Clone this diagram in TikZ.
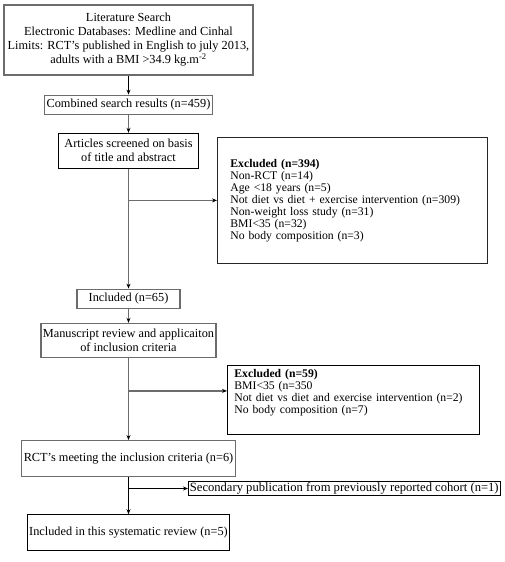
\documentclass[tikz,border=0pt]{standalone}
\usepackage{fontspec}
\setmainfont{Liberation Serif}
\usetikzlibrary{arrows.meta, positioning, calc}

\begin{document}
\begin{tikzpicture}[
    x=1pt, y=1pt,
    box/.style={rectangle, draw, line width=0.8pt, align=center, inner sep=2pt, font=\fontsize{12.3}{14}\selectfont},
    greybox/.style={box, draw=gray!85!black, line width=1.2pt},
    exclbox/.style={rectangle, draw, line width=0.8pt, align=left, inner ysep=4pt, font=\fontsize{11.7}{12}\selectfont},
    arrow/.style={-{Stealth[length=5pt, width=4pt]}, line width=0.8pt},
    greyarrow/.style={-{Stealth[length=5pt, width=4pt, black]}, draw=gray!85!black, line width=1.2pt}
]
\useasboundingbox (0,0) rectangle (504,-562);

% --- Coluna principal ---
\node[greybox, minimum width=249pt, minimum height=70pt] (search) at (128.5,-40)
    {Literature Search\\Electronic Databases: Medline and Cinhal\\Limits: RCT’s published in English to july 2013,\\adults with a BMI >34.9 kg.m\textsuperscript{-2}};

\node[greybox, minimum width=165pt, minimum height=19pt, below=19pt of search] (combined)
    {Combined search results (n=459)};

\node[box, minimum width=140pt, minimum height=35pt, below=18pt of combined] (screened)
    {Articles screened on basis\\of title and abstract};

\node[greybox, minimum width=103pt, minimum height=19pt, below=120pt of screened] (incl65)
    {Included (n=65)};

\node[greybox, minimum width=167pt, minimum height=34pt, below=14pt of incl65] (manuscript)
    {Manuscript review and applicaiton\\of inclusion criteria};

\node[greybox, minimum width=211pt, minimum height=36pt, below=82pt of manuscript] (rcts)
    {RCT’s meeting the inclusion criteria (n=6)};

\node[box, minimum width=201pt, minimum height=36pt, below=37pt of rcts] (review)
    {Included in this systematic review (n=5)};

% --- Caixas laterais ---
\node[exclbox, draw=black!85, text width=244pt, inner xsep=13pt, minimum height=126pt, anchor=north west] (excl394) at (217,-137)
    {\textbf{Excluded (n=394)}\\Non-RCT (n=14)\\Age <18 years (n=5)\\Not diet vs diet + exercise intervention (n=309)\\Non-weight loss study (n=31)\\BMI<35 (n=32)\\No body composition (n=3)};

\node[exclbox, text width=238pt, inner xsep=7pt, inner ysep=3pt, minimum height=69pt, anchor=north west] (excl59) at (227,-365)
    {\textbf{Excluded (n=59)}\\BMI<35 (n=350\\Not diet vs diet and exercise intervention (n=2)\\No body composition (n=7)\rule[-16pt]{0pt}{16pt}};

\node[box, inner sep=1.5pt, font=\fontsize{12.6}{14}\selectfont, anchor=west] (secondary) at (188,-488.5)
    {Secondary publication from previously reported cohort (n=1)};

% === SETAS ===
\draw[arrow] (search) -- (combined);
\draw[greyarrow] (combined) -- (screened);
\draw[greyarrow] (screened) -- (incl65);
\draw[greyarrow] (incl65) -- (manuscript);
\draw[greyarrow] (manuscript) -- (rcts);
\draw[arrow] (rcts) -- (review);

% Ramos para as exclusoes
\draw[greyarrow] (screened.south |- excl394.west) -- (excl394.west);
\draw[greyarrow] ([yshift=9pt]manuscript.south |- excl59.west) -- ([yshift=9pt]excl59.west);
\draw[arrow] (rcts.south |- secondary.west) -- (secondary.west);

\end{tikzpicture}
\end{document}
